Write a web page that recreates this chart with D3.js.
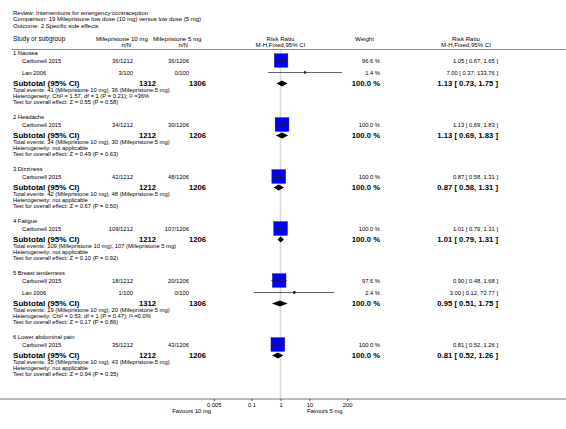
<!DOCTYPE html>
<html><head><meta charset="utf-8">
<script src="https://cdn.jsdelivr.net/npm/d3@7"></script>
<style>
body{margin:0;background:#fff;}
svg{display:block;font-family:"Liberation Sans",Arial,sans-serif;}
</style></head>
<body>
<svg id="chart" width="566" height="429"></svg>
<script>
// ---------- DATA ----------
const titleLines = [
  "Review:  Interventions for emergency contraception",
  "Comparison:  19 Mifepristone low dose (10 mg) versus low dose (5 mg)",
  "Outcome:  2 Specific side effects"
];
const groupNames = ["1 Nausea","2 Headache","3 Dizziness","4 Fatigue","5 Breast tenderness","6 Lower abdominal pain"];
const studyGroup = [0,0,1,2,3,4,4,5];
const studyNames = ["Carbonell 2015","Lan 2006","Carbonell 2015","Carbonell 2015","Carbonell 2015","Carbonell 2015","Lan 2006","Carbonell 2015"];
const events10 = [36,3,34,42,109,18,1,35];
const total10  = [1212,100,1212,1212,1212,1212,100,1212];
const events5  = [36,0,30,48,107,20,0,43];
const total5   = [1206,100,1206,1206,1206,1206,100,1206];
const weights  = [96.6,1.4,100.0,100.0,100.0,97.6,2.4,100.0];
const studyRR  = [1.05,7.00,1.13,0.87,1.01,0.90,3.00,0.81];
const studyLo  = [0.67,0.37,0.69,0.58,0.79,0.48,0.12,0.52];
const studyHi  = [1.65,133.76,1.83,1.31,1.31,1.68,72.77,1.26];
const subN10 = [1312,1212,1212,1212,1312,1212];
const subN5  = [1306,1206,1206,1206,1306,1206];
const subRR  = [1.13,1.13,0.87,1.01,0.95,0.81];
const subLo  = [0.73,0.69,0.58,0.79,0.51,0.52];
const subHi  = [1.75,1.83,1.31,1.31,1.75,1.26];
const totEv10 = [41,34,42,109,19,35];
const totEv5  = [36,30,48,107,20,43];
const heterogeneity = [
  "Heterogeneity: Chi² = 1.57, df = 1 (P = 0.21); I² =36%",
  "Heterogeneity: not applicable",
  "Heterogeneity: not applicable",
  "Heterogeneity: not applicable",
  "Heterogeneity: Chi² = 0.53, df = 1 (P = 0.47); I² =0.0%",
  "Heterogeneity: not applicable"
];
const overallZ = ["0.55","0.49","0.67","0.10","0.17","0.94"];
const overallP = ["0.58","0.63","0.50","0.92","0.86","0.35"];
const tickValues = [0.005,0.1,1,10,200];
const tickLabels = ["0.005","0.1","1","10","200"];

// ---------- LAYOUT ----------
const svg = d3.select("#chart");
const SMALL = 5.8, HEAD = 6.1, BOLD = 7.7;
const f2 = d3.format(".2f");
const x = d3.scaleLog().domain([0.005,200]).range([213.8,347.2]);
const axisY = 399;

function txt(str, xx, yy, opt={}) {
  return svg.append("text")
    .attr("x", xx).attr("y", yy).attr("dy","0.35em")
    .attr("font-size", opt.size || SMALL)
    .attr("font-weight", opt.bold ? "bold" : "normal")
    .attr("text-anchor", opt.anchor || "start")
    .attr("fill", opt.fill || "#000")
    .text(str);
}

// titles
titleLines.forEach((t,i)=> txt(t, 13, 13 + i*6.2, {size:HEAD-0.1}));

// header
txt("Study or subgroup", 13, 39, {size:HEAD+0.3});
txt("Mifepristone 10 mg", 96, 39, {size:HEAD});
txt("n/N", 131, 45, {size:HEAD, anchor:"end"});
txt("Mifepristone 5 mg", 153, 39, {size:HEAD});
txt("n/N", 188, 45, {size:HEAD, anchor:"end"});
txt("Risk Ratio", 280.5, 39, {size:HEAD, anchor:"middle"});
txt("M-H,Fixed,95% CI", 280.5, 45, {size:HEAD, anchor:"middle"});
txt("Weight", 355, 39, {size:HEAD});
txt("Risk Ratio", 466, 39, {size:HEAD, anchor:"middle"});
txt("M-H,Fixed,95% CI", 466, 45, {size:HEAD, anchor:"middle"});
svg.append("line").attr("x1",12).attr("x2",566).attr("y1",49.5).attr("y2",49.5)
  .attr("stroke","#888").attr("stroke-width",1);

// compute row positions
let cursor = 53;
const headingY = [], studyY = [], subY = [], linesY = [];
groupNames.forEach((g,gi)=>{
  headingY.push(cursor);
  let first = true;
  studyGroup.forEach((sg,si)=>{
    if (sg===gi) { cursor += first ? 7.5 : 12; first=false; studyY[si]=cursor; }
  });
  cursor += 11; subY.push(cursor);
  linesY.push([cursor+6.3, cursor+12.2, cursor+18.1]);
  cursor += 18.1 + 15.4;
});

// reference line at 1
svg.append("line").attr("x1",x(1)).attr("x2",x(1)).attr("y1",50).attr("y2",axisY)
  .attr("stroke","#d8d8d8").attr("stroke-width",1.5);

// groups
groupNames.forEach((g,gi)=>{
  txt(g, 13, headingY[gi]);
  txt("Subtotal (95% CI)", 13, subY[gi], {size:BOLD+0.4, bold:true});
  txt(subN10[gi], 156, subY[gi], {size:BOLD, bold:true, anchor:"end"});
  txt(subN5[gi], 206, subY[gi], {size:BOLD, bold:true, anchor:"end"});
  txt("100.0 %", 380, subY[gi], {size:BOLD, bold:true, anchor:"end"});
  txt(`${f2(subRR[gi])} [ ${f2(subLo[gi])}, ${f2(subHi[gi])} ]`, 498, subY[gi], {size:BOLD, bold:true, anchor:"end"});
  txt(`Total events: ${totEv10[gi]} (Mifepristone 10 mg), ${totEv5[gi]} (Mifepristone 5 mg)`, 13, linesY[gi][0]);
  txt(heterogeneity[gi], 13, linesY[gi][1]);
  txt(`Test for overall effect: Z = ${overallZ[gi]} (P = ${overallP[gi]})`, 13, linesY[gi][2]);
  // diamond
  const yc = subY[gi];
  svg.append("path")
    .attr("d", `M${x(subLo[gi])},${yc} L${x(subRR[gi])},${yc-3} L${x(subHi[gi])},${yc} L${x(subRR[gi])},${yc+3} Z`)
    .attr("fill","#000");
});

// studies
studyNames.forEach((s,si)=>{
  const yy = studyY[si];
  txt(s, 22, yy);
  txt(`${events10[si]}/${total10[si]}`, 133, yy, {anchor:"end"});
  txt(`${events5[si]}/${total5[si]}`, 189, yy, {anchor:"end"});
  txt(`${weights[si].toFixed(1)} %`, 380, yy, {anchor:"end"});
  txt(`${f2(studyRR[si])} [ ${f2(studyLo[si])}, ${f2(studyHi[si])} ]`, 498, yy, {anchor:"end"});
  const size = 13.8*Math.sqrt(weights[si]/100);
  svg.append("rect")
    .attr("x", x(studyRR[si]) - size/2).attr("y", yy - size/2)
    .attr("width", size).attr("height", size)
    .attr("fill","#0000ff").attr("stroke","#1a1a8c").attr("stroke-width",0.4);
  svg.append("line").attr("x1",x(studyLo[si])).attr("x2",x(studyHi[si]))
    .attr("y1",yy).attr("y2",yy).attr("stroke","#222").attr("stroke-width",0.7);
  svg.append("line").attr("x1",x(studyRR[si])).attr("x2",x(studyRR[si]))
    .attr("y1",yy-1.5).attr("y2",yy+1.5).attr("stroke","#222").attr("stroke-width",0.7);
});

// axis
const axis = d3.axisBottom(x).tickValues(tickValues)
  .tickFormat((d,i)=>tickLabels[i]).tickSize(2).tickPadding(1.5);
const ag = svg.append("g").attr("transform",`translate(0,${axisY})`).call(axis);
ag.select(".domain").remove();
ag.selectAll("text").attr("font-size",SMALL).attr("font-family","Liberation Sans, Arial, sans-serif").attr("fill","#000");
ag.selectAll("line").attr("stroke","#444");
svg.append("line").attr("x1",0).attr("x2",566).attr("y1",axisY).attr("y2",axisY)
  .attr("stroke","#555").attr("stroke-width",0.8);
txt("Favours 10 mg", 211, 411, {anchor:"end"});
txt("Favours 5 mg", 307, 411);
</script>
</body></html>
